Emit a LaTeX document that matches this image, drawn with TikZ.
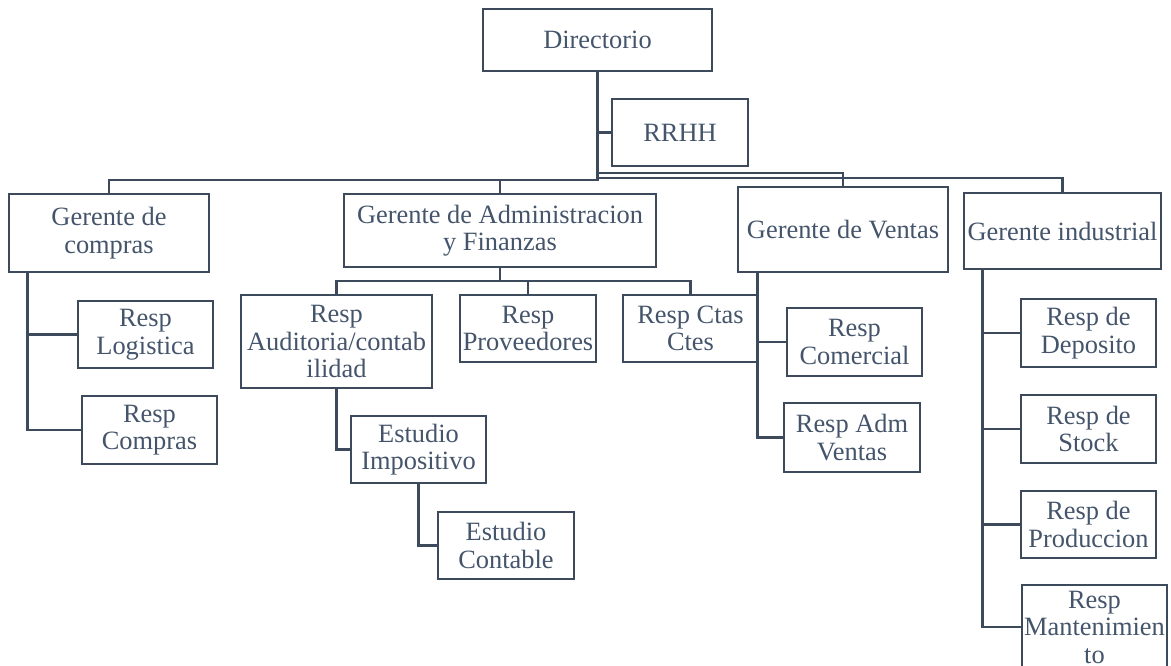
\documentclass[tikz,border=0pt]{standalone}
\usepackage{fontspec}
\setmainfont{Liberation Serif}
\definecolor{ln}{HTML}{3D4A5C}
\definecolor{tx}{HTML}{44546A}
\begin{document}
\begin{tikzpicture}[x=1pt,y=-1pt,
  box/.style={draw=ln, line width=2.6pt, text=tx, inner sep=0pt, align=center,
    font=\fontsize{26.4}{27.5}\selectfont},
  conn/.style={draw=ln, line width=2.6pt}]
\useasboundingbox (0,0) rectangle (1171,665);
% top
\node[box, minimum width=229, minimum height=62] (dir) at (597.5,40) {Directorio};
\node[box, minimum width=136, minimum height=67] (rrhh) at (680,132.5) {RRHH};
% managers
\node[box, minimum width=200, minimum height=78] (gc) at (109,233) {Gerente de\\compras};
\node[box, minimum width=312, minimum height=73] (ga) at (500,230.5) {Gerente de Administracion\\y Finanzas};
\node[box, minimum width=210, minimum height=85] (gv) at (843,229.5) {Gerente de Ventas};
\node[box, minimum width=197, minimum height=76] (gi) at (1062.5,231) {Gerente industrial};
% compras
\node[box, minimum width=135, minimum height=67] (log) at (145.5,334.5) {Resp\\Logistica};
\node[box, minimum width=135, minimum height=68] (comp) at (149.5,430) {Resp\\Compras};
% admin
\node[box, minimum width=191, minimum height=93] (aud) at (336.5,341.5) {Resp\\Auditoria/contab\\ilidad};
\node[box, minimum width=136, minimum height=67] (prov) at (528,328.5) {Resp\\Proveedores};
\node[box, minimum width=135, minimum height=67] (ctas) at (690.5,328.5) {Resp Ctas\\Ctes};
\node[box, minimum width=135, minimum height=67] (imp) at (418.5,449.5) {Estudio\\Impositivo};
\node[box, minimum width=136, minimum height=67] (cont) at (506,545.5) {Estudio\\Contable};
% ventas
\node[box, minimum width=135, minimum height=68] (rcom) at (854.5,342) {Resp\\Comercial};
\node[box, minimum width=136, minimum height=69] (radm) at (852,437.5) {Resp Adm\\Ventas};
% industrial
\node[box, minimum width=135, minimum height=68] (dep) at (1088.5,333) {Resp de\\Deposito};
\node[box, minimum width=135, minimum height=68] (stk) at (1088.5,429) {Resp de\\Stock};
\node[box, minimum width=135, minimum height=67] (prod) at (1088.5,524.5) {Resp de\\Produccion};
\node[box, minimum width=145, minimum height=84] (mant) at (1094.5,627) {Resp\\Mantenimien\\to};
% connectors from Directorio
\draw[conn] (dir.south) |- (rrhh.west);
\draw[conn] (dir.south) -- (dir.south |- 0,180) -| (gc.north);
\draw[conn] (dir.south |- 0,180) -| (ga.north);
\draw[conn] (dir.south |- 0,173) -| (gv.north);
\draw[conn] (dir.south |- 0,178) -| (gi.north);
% compras
\draw[conn] ([xshift=20]gc.south west) |- (log.west);
\draw[conn] ([xshift=20]gc.south west) |- (comp.west);
% admin
\draw[conn] (ga.south) -- (ga.south |- 0,281) -| (aud.north);
\draw[conn] (ga.south |- 0,281) -| (prov.north);
\draw[conn] (ga.south |- 0,281) -| (ctas.north);
\draw[conn] (aud.south) |- (imp.west);
\draw[conn] (imp.south) |- (cont.west);
% ventas
\draw[conn] ([xshift=21]gv.south west) |- (rcom.west);
\draw[conn] ([xshift=21]gv.south west) |- (radm.west);
% industrial
\draw[conn] ([xshift=20]gi.south west) |- (dep.west);
\draw[conn] ([xshift=20]gi.south west) |- (stk.west);
\draw[conn] ([xshift=20]gi.south west) |- (prod.west);
\draw[conn] ([xshift=20]gi.south west) |- (mant.west);
\end{tikzpicture}
\end{document}
